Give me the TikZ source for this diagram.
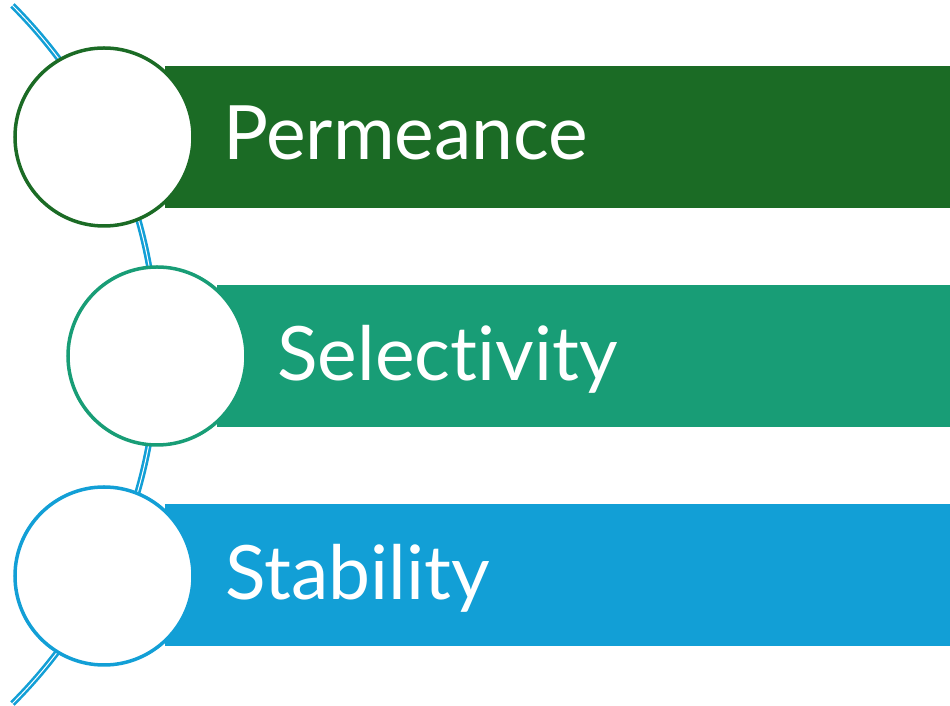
\documentclass[tikz,border=0pt]{standalone}
\usepackage{fontspec}
\setmainfont{Lato}[Ligatures={NoCommon,NoContextual}]
\usetikzlibrary{positioning}

\definecolor{permgreen}{HTML}{1B6B25}
\definecolor{selteal}{HTML}{189D76}
\definecolor{stabblue}{HTML}{129FD6}

\begin{document}
\begin{tikzpicture}[x=1bp,y=1bp,
    bar/.style = {rectangle, inner sep=0pt, minimum height=142bp, anchor=west},
    ring/.style = {circle, fill=white, line width=3.5bp, minimum size=178bp, inner sep=0pt},
    itemtext/.style = {anchor=base west, inner sep=0pt, text=white, font=\fontsize{75bp}{80bp}\selectfont}]
\useasboundingbox (0,0) rectangle (950,706);

% the spine behind the circles
\coordinate (spinemid) at (-336.7,351.5);
\draw[stabblue, line width=2.6bp, double=white, double distance=1bp]
    ([shift={(-45:493.7)}]spinemid) arc[start angle=-45, end angle=45, radius=493.7];

% bars
\node[bar, fill=permgreen, minimum width=785bp] (barP) at (165,569) {};
\node[bar, fill=selteal, minimum width=733bp] (barS) at (217,350) {};
\node[bar, fill=stabblue, minimum width=785bp] (barT) at (165,131) {};

% circles
\node[ring, draw=permgreen] (ringP) at (104,569) {};
\node[ring, draw=selteal] (ringS) at (157,350) {};
\node[ring, draw=stabblue] (ringT) at (104,130) {};

% labels
\node[itemtext] (txtP) at (223,546) {Permeance};
\node[itemtext] (txtS) at (277,325) {Selec\kern0pt tivity};
\node[itemtext] (txtT) at (225,106) {Stability};
\end{tikzpicture}
\end{document}
